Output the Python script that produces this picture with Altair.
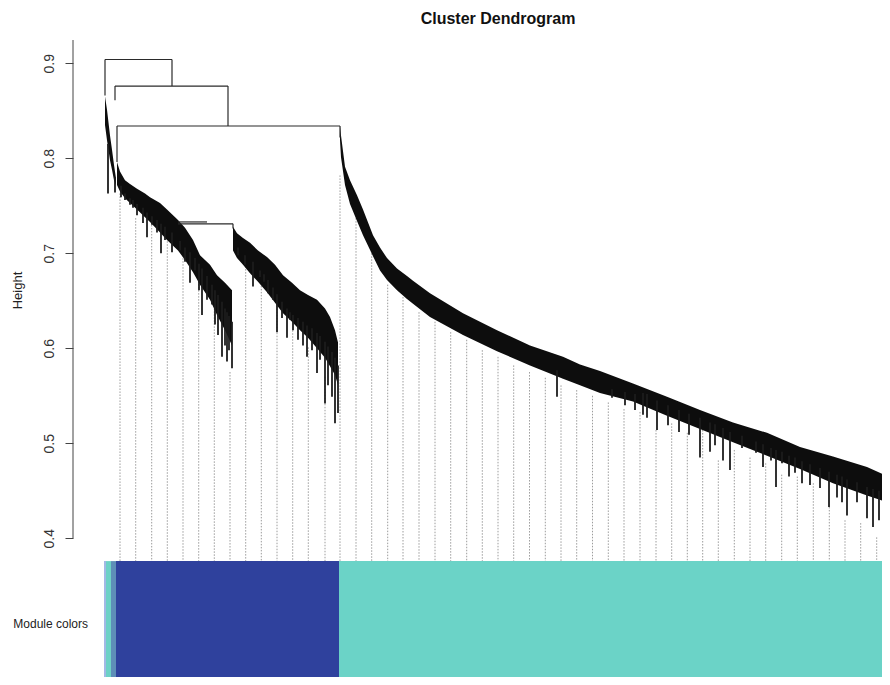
import altair as alt
import pandas as pd

# ---------------- data (leaf position along the dendrogram, merge height) ----------------
# upper merges of the tree: segments (x -> x2, h -> h2)
merge_x  = [1,     1,     68,    11,    11,    124,   13,    13,    236,   74,    74,    129]
merge_x2 = [68,    1,     68,    124,   11,    124,   236,   13,    236,   129,   103,   129]
merge_h  = [0.904, 0.904, 0.904, 0.876, 0.876, 0.876, 0.834, 0.834, 0.834, 0.731, 0.733, 0.731]
merge_h2 = [0.904, 0.866, 0.876, 0.876, 0.861, 0.834, 0.834, 0.796, 0.822, 0.731, 0.733, 0.726]

# dense branch bands: upper and lower edge of the packed leaves
left_x   = [1, 3, 6, 8, 10, 12]
left_top = [0.865, 0.851, 0.824, 0.809, 0.793, 0.779]
left_bot = [0.835, 0.819, 0.798, 0.788, 0.777, 0.772]

blue1_x   = [13, 16, 21, 26, 33, 41, 46, 56, 63, 74, 81, 89, 96, 106, 113, 121, 128]
blue1_top = [0.796, 0.786, 0.777, 0.773, 0.768, 0.763, 0.759, 0.753, 0.746, 0.735, 0.727,
             0.714, 0.698, 0.688, 0.677, 0.669, 0.661]
blue1_bot = [0.772, 0.765, 0.758, 0.753, 0.746, 0.738, 0.733, 0.722, 0.714, 0.703, 0.693,
             0.680, 0.667, 0.651, 0.635, 0.619, 0.603]

blue2_x   = [129, 133, 139, 146, 154, 163, 171, 179, 188, 196, 204, 213, 221, 226, 231, 234]
blue2_top = [0.728, 0.721, 0.716, 0.711, 0.703, 0.696, 0.688, 0.677, 0.669, 0.661, 0.656,
             0.651, 0.642, 0.633, 0.619, 0.606]
blue2_bot = [0.703, 0.695, 0.688, 0.679, 0.670, 0.659, 0.648, 0.637, 0.628, 0.619, 0.611,
             0.600, 0.590, 0.581, 0.572, 0.561]

turq_x   = [236, 237, 241, 246, 253, 259, 269, 276, 283, 293, 303, 309, 326, 359, 393, 426,
            459, 476, 496, 529, 563, 596, 629, 663, 696, 729, 763, 786]
turq_top = [0.834, 0.824, 0.791, 0.777, 0.761, 0.746, 0.719, 0.706, 0.695, 0.684, 0.676,
            0.671, 0.658, 0.637, 0.619, 0.603, 0.591, 0.583, 0.576, 0.563, 0.549, 0.535,
            0.522, 0.511, 0.496, 0.486, 0.475, 0.464]
turq_bot = [0.819, 0.801, 0.772, 0.752, 0.734, 0.719, 0.697, 0.682, 0.672, 0.661, 0.652,
            0.647, 0.633, 0.614, 0.597, 0.582, 0.568, 0.561, 0.553, 0.544, 0.529, 0.515,
            0.501, 0.487, 0.473, 0.458, 0.445, 0.437]

# hanging leaf groups below the bands (x, from height, to height)
hang_x = [4, 11,
          17, 21, 26, 29, 33, 39, 43, 48, 53, 57, 61, 68, 76, 81, 86, 91, 95, 98, 103, 108,
          111, 114, 118, 121, 123, 125, 128,
          134, 141, 149, 156, 160, 164, 169, 173, 178, 183, 186, 189, 194, 199, 203, 208,
          213, 216, 221, 224, 228, 231, 234,
          453, 508, 521, 531, 539, 543, 553, 564, 575, 585, 596, 606, 611, 619, 626, 638,
          652, 659, 667, 672, 678, 685, 691, 698, 706, 716, 725, 733, 738, 743, 753, 763,
          769, 775, 782]
hang_from = [0.815, 0.780,
             0.771, 0.763, 0.758, 0.756, 0.752, 0.748, 0.743, 0.739, 0.735, 0.731, 0.728,
             0.722, 0.713, 0.706, 0.701, 0.695, 0.689, 0.684, 0.676, 0.667, 0.661, 0.656,
             0.649, 0.642, 0.638, 0.634, 0.628,
             0.706, 0.698, 0.691, 0.682, 0.678, 0.672, 0.664, 0.657, 0.649, 0.642, 0.638,
             0.635, 0.632, 0.628, 0.624, 0.621, 0.616, 0.613, 0.607, 0.602, 0.596, 0.590,
             0.582,
             0.577, 0.557, 0.554, 0.552, 0.553, 0.552, 0.545, 0.540, 0.535, 0.531, 0.527,
             0.522, 0.520, 0.516, 0.512, 0.508, 0.502, 0.499, 0.495, 0.493, 0.491, 0.487,
             0.485, 0.481, 0.478, 0.474, 0.470, 0.467, 0.465, 0.462, 0.459, 0.454, 0.452,
             0.450, 0.447]
hang_to = [0.763, 0.764,
           0.759, 0.756, 0.751, 0.748, 0.740, 0.732, 0.717, 0.730, 0.722, 0.700, 0.714,
           0.701, 0.703, 0.691, 0.669, 0.682, 0.661, 0.635, 0.651, 0.646, 0.625, 0.614,
           0.591, 0.603, 0.586, 0.598, 0.579,
           0.698, 0.688, 0.665, 0.675, 0.670, 0.658, 0.651, 0.617, 0.632, 0.611, 0.630,
           0.619, 0.609, 0.603, 0.591, 0.598, 0.574, 0.588, 0.542, 0.561, 0.549, 0.521,
           0.532,
           0.549, 0.548, 0.540, 0.535, 0.530, 0.527, 0.514, 0.519, 0.512, 0.509, 0.485,
           0.491, 0.498, 0.482, 0.472, 0.495, 0.490, 0.475, 0.482, 0.454, 0.479, 0.465,
           0.469, 0.458, 0.456, 0.453, 0.433, 0.443, 0.438, 0.424, 0.438, 0.421, 0.412,
           0.419, 0.409]

# guide lines (every ~1% of leaves) with their upper ends
guide_x = [16, 31.7, 47.7, 63.3, 79, 94.7, 110.3, 126, 141.7, 157.3, 173, 188.7, 204.3, 221,
           236, 252, 267.7, 283.7, 299, 315, 331, 346.7, 362.7, 378.3, 394, 409.7, 425.5,
           441.3, 457, 472.7, 488.5, 504.3, 520, 536, 552, 567.7, 583.3, 598.7, 614.3, 630.3,
           646, 661.7, 677.7, 693.3, 709.3, 725.3, 741, 756.7, 772.7]
guide_top = [0.763, 0.737, 0.733, 0.719, 0.698, 0.677, 0.661, 0.575, 0.696, 0.672, 0.648,
             0.619, 0.601, 0.570, 0.782, 0.737, 0.700, 0.667, 0.654, 0.638, 0.628, 0.617,
             0.609, 0.598, 0.591, 0.582, 0.575, 0.569, 0.561, 0.556, 0.550, 0.543, 0.536,
             0.533, 0.514, 0.521, 0.511, 0.514, 0.482, 0.493, 0.485, 0.479, 0.467, 0.465,
             0.458, 0.433, 0.419, 0.416, 0.401]
guide_bottom = 0.376

# module colour bar
module_start = [0, 2, 7, 12, 235]
module_end   = [2, 7, 12, 235, 786]
module_color = ["#A3B9E6", "#6DD1C6", "#5E8EB8", "#2F419D", "#6BD3C7"]
bar_top, bar_bottom = 0.376, 0.245

y_ticks = [0.4, 0.5, 0.6, 0.7, 0.8, 0.9]
axis_top = 0.9245

FONT = "Liberation Sans"

# ---------------- tables ----------------
merges = pd.DataFrame(dict(x=merge_x, x2=merge_x2, h=merge_h, h2=merge_h2))
bands = pd.concat([
    pd.DataFrame(dict(x=left_x, top=left_top, bot=left_bot, grp="left")),
    pd.DataFrame(dict(x=blue1_x, top=blue1_top, bot=blue1_bot, grp="blue1")),
    pd.DataFrame(dict(x=blue2_x, top=blue2_top, bot=blue2_bot, grp="blue2")),
    pd.DataFrame(dict(x=turq_x, top=turq_top, bot=turq_bot, grp="turq")),
], ignore_index=True)
hangs = pd.DataFrame(dict(x=hang_x, h=hang_from, h2=hang_to))
guides = pd.DataFrame(dict(x=guide_x, h=guide_top, h2=[guide_bottom] * len(guide_x)))
modules = pd.DataFrame(dict(x=module_start, x2=module_end, color=module_color,
                            h=[bar_top] * 5, h2=[bar_bottom] * 5))

xs = alt.Scale(domain=[0, 778], nice=False, zero=False)
ys = alt.Scale(domain=[0.254, 0.92453], nice=False, zero=False)

y_axis = alt.Axis(values=y_ticks, format=".1f", domain=False, offset=31, grid=False,
                  tickSize=8, tickColor="#444", tickWidth=1,
                  labelAngle=270, labelAlign="center", labelBaseline="alphabetic",
                  labelPadding=12, labelFontSize=14, labelFont=FONT, labelColor="#333",
                  title="Height", titleFont=FONT, titleFontSize=13, titleFontWeight="normal",
                  titleColor="#222", titleAngle=270, titleAlign="center",
                  titleBaseline="middle", titleX=-56, titleY=250)


def Y(field):
    return alt.Y(field, scale=ys, axis=y_axis, stack=None)


guide_layer = alt.Chart(guides).mark_rule(color="#9c9c9c", strokeWidth=1,
                                          strokeDash=[1.5, 1.5]).encode(
    x=alt.X("x:Q", scale=xs, axis=None), y=Y("h:Q"), y2="h2:Q")

bar_layer = alt.Chart(modules).mark_rect(clip=True).encode(
    x=alt.X("x:Q", scale=xs, axis=None), x2="x2:Q",
    y=Y("h:Q"), y2="h2:Q",
    color=alt.Color("color:N", scale=None))

band_layer = alt.Chart(bands).mark_area(color="#0d0d0d", clip=True).encode(
    x=alt.X("x:Q", scale=xs, axis=None),
    y=Y("top:Q"), y2="bot:Q",
    detail="grp:N")

hang_layer = alt.Chart(hangs).mark_rule(color="#1c1c1c", strokeWidth=1.8, clip=True).encode(
    x=alt.X("x:Q", scale=xs, axis=None), y=Y("h:Q"), y2="h2:Q")

merge_layer = alt.Chart(merges).mark_rule(color="#2a2a2a", strokeWidth=1.2).encode(
    x=alt.X("x:Q", scale=xs, axis=None), x2="x2:Q",
    y=Y("h:Q"), y2="h2:Q")

axis_line = alt.Chart(pd.DataFrame(dict(lo=[y_ticks[0]], hi=[axis_top]))).mark_rule(
    color="#444", strokeWidth=1).encode(
    x=alt.value(-31), y=Y("lo:Q"), y2="hi:Q")

title_layer = alt.Chart(pd.DataFrame(dict(t=["Cluster Dendrogram"]))).mark_text(
    font=FONT, fontSize=16, fontWeight="bold", align="center", baseline="alphabetic",
    color="#111").encode(text="t:N", x=alt.value(394), y=alt.value(-16))

module_label = alt.Chart(pd.DataFrame(dict(t=["Module colors"]))).mark_text(
    font=FONT, fontSize=12, align="right", baseline="alphabetic", color="#222").encode(
    text="t:N", x=alt.value(-16), y=alt.value(588))

chart = alt.layer(
    guide_layer, bar_layer, band_layer, hang_layer, merge_layer, axis_line,
    title_layer, module_label
).properties(
    width=778, height=637,
    autosize=alt.AutoSizeParams(type="none"),
    padding={"left": 96, "top": 32, "right": 0, "bottom": 0},
    background="white",
).configure_view(stroke=None)

chart.save("out.html", embed_options={"renderer": "svg", "actions": False})
